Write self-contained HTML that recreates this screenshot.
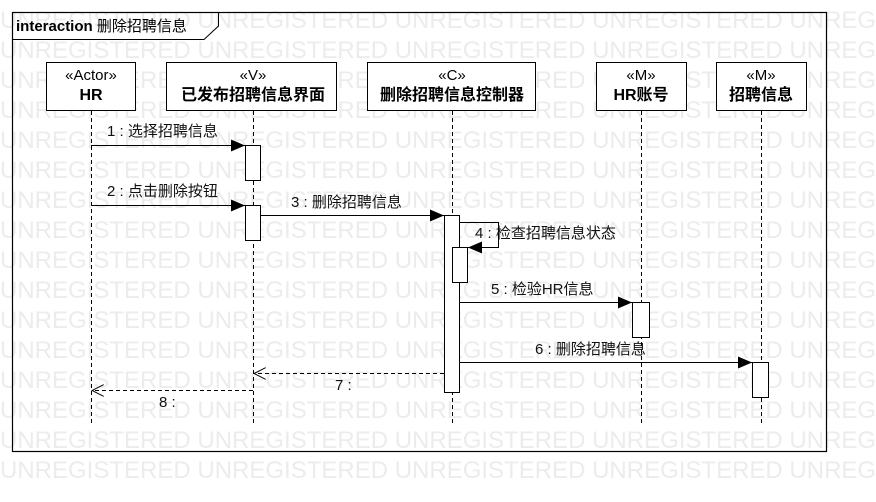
<!DOCTYPE html>
<html><head><meta charset="utf-8"><style>
html,body{margin:0;padding:0;background:#fff;}
svg{display:block;}
text{font-family:"Liberation Sans","Noto Sans CJK SC",sans-serif;}
</style></head><body>
<svg width="876" height="502" viewBox="0 0 876 502" xmlns="http://www.w3.org/2000/svg">
<defs>
<marker id="fa" markerWidth="14" markerHeight="12" refX="14" refY="6" orient="auto" markerUnits="userSpaceOnUse"><path d="M0,0 L14,6 L0,12 z" fill="#000"/></marker>
<marker id="oa" markerWidth="13" markerHeight="12" refX="12" refY="6" orient="auto" markerUnits="userSpaceOnUse"><path d="M0,0 L12,6 L0,12" fill="none" stroke="#000" stroke-width="1"/></marker>
</defs>
<rect width="876" height="502" fill="#fff"/>
<g fill="#ececec" font-size="24">
<text x="0" y="28">UNREGISTERED UNREGISTERED UNREGISTERED UNREGISTERED UNREGISTERED</text>
<text x="0" y="58">UNREGISTERED UNREGISTERED UNREGISTERED UNREGISTERED UNREGISTERED</text>
<text x="0" y="88">UNREGISTERED UNREGISTERED UNREGISTERED UNREGISTERED UNREGISTERED</text>
<text x="0" y="118">UNREGISTERED UNREGISTERED UNREGISTERED UNREGISTERED UNREGISTERED</text>
<text x="0" y="148">UNREGISTERED UNREGISTERED UNREGISTERED UNREGISTERED UNREGISTERED</text>
<text x="0" y="178">UNREGISTERED UNREGISTERED UNREGISTERED UNREGISTERED UNREGISTERED</text>
<text x="0" y="208">UNREGISTERED UNREGISTERED UNREGISTERED UNREGISTERED UNREGISTERED</text>
<text x="0" y="238">UNREGISTERED UNREGISTERED UNREGISTERED UNREGISTERED UNREGISTERED</text>
<text x="0" y="268">UNREGISTERED UNREGISTERED UNREGISTERED UNREGISTERED UNREGISTERED</text>
<text x="0" y="298">UNREGISTERED UNREGISTERED UNREGISTERED UNREGISTERED UNREGISTERED</text>
<text x="0" y="328">UNREGISTERED UNREGISTERED UNREGISTERED UNREGISTERED UNREGISTERED</text>
<text x="0" y="358">UNREGISTERED UNREGISTERED UNREGISTERED UNREGISTERED UNREGISTERED</text>
<text x="0" y="388">UNREGISTERED UNREGISTERED UNREGISTERED UNREGISTERED UNREGISTERED</text>
<text x="0" y="418">UNREGISTERED UNREGISTERED UNREGISTERED UNREGISTERED UNREGISTERED</text>
<text x="0" y="448">UNREGISTERED UNREGISTERED UNREGISTERED UNREGISTERED UNREGISTERED</text>
<text x="0" y="478">UNREGISTERED UNREGISTERED UNREGISTERED UNREGISTERED UNREGISTERED</text>
</g>
<rect x="12.5" y="12.5" width="814" height="439" fill="none" stroke="#000" stroke-width="1.2"/>
<path d="M12.5,39.5 L204,39.5 L218.5,26 L218.5,12.5" fill="none" stroke="#000" stroke-width="1"/>
<text x="16" y="31" font-size="15"><tspan font-weight="bold">interaction</tspan> 删除招聘信息</text>

<g stroke="#000" stroke-dasharray="4,3" stroke-width="1">
<line x1="91.5" y1="111" x2="91.5" y2="423"/>
<line x1="253.5" y1="111" x2="253.5" y2="423"/>
<line x1="452.5" y1="111" x2="452.5" y2="423"/>
<line x1="641.5" y1="111" x2="641.5" y2="423"/>
<line x1="761.5" y1="111" x2="761.5" y2="423"/>
</g>
<g fill="#fff" stroke="#000" stroke-width="1">
<rect x="46.5" y="62.5" width="89" height="48"/>
<rect x="166.5" y="62.5" width="170" height="48"/>
<rect x="367.5" y="62.5" width="168" height="48"/>
<rect x="596.5" y="62.5" width="90" height="48"/>
<rect x="716.5" y="62.5" width="90" height="48"/>
</g>
<g font-size="15" text-anchor="middle">
<text x="91" y="80">«Actor»</text><text x="91" y="100" font-weight="bold" font-size="16">HR</text>
<text x="253" y="80">«V»</text><text x="253" y="100" font-weight="bold" font-size="16">已发布招聘信息界面</text>
<text x="452" y="80">«C»</text><text x="452" y="100" font-weight="bold" font-size="16">删除招聘信息控制器</text>
<text x="641" y="80">«M»</text><text x="641" y="100" font-weight="bold" font-size="16">HR账号</text>
<text x="761" y="80">«M»</text><text x="761" y="100" font-weight="bold" font-size="16">招聘信息</text>
</g>

<g fill="#fff" stroke="#000" stroke-width="1">
<rect x="245.5" y="145.5" width="15" height="35"/>
<rect x="245.5" y="205.5" width="15" height="35"/>
<rect x="444.5" y="215.5" width="15" height="177"/>
<rect x="452.5" y="247.5" width="15" height="35"/>
<rect x="632.5" y="302.5" width="17" height="35"/>
<rect x="752.5" y="362.5" width="16" height="35"/>
</g>

<g stroke="#000" stroke-width="1" fill="none">
<line x1="91" y1="145.5" x2="245" y2="145.5" marker-end="url(#fa)"/>
<line x1="91" y1="205.5" x2="245" y2="205.5" marker-end="url(#fa)"/>
<line x1="261" y1="215.5" x2="444" y2="215.5" marker-end="url(#fa)"/>
<path d="M460,222.5 L498.5,222.5 L498.5,247.5 L468,247.5" marker-end="url(#fa)"/>
<line x1="460" y1="302.5" x2="632" y2="302.5" marker-end="url(#fa)"/>
<line x1="460" y1="362.5" x2="752" y2="362.5" marker-end="url(#fa)"/>
<line x1="444" y1="373.5" x2="254" y2="373.5" stroke-dasharray="4,3" marker-end="url(#oa)"/>
<line x1="253" y1="390.5" x2="92" y2="390.5" stroke-dasharray="4,3" marker-end="url(#oa)"/>
</g>
<g font-size="15" fill="#111">
<text x="107" y="136">1 : 选择招聘信息</text>
<text x="107" y="196">2 : 点击删除按钮</text>
<text x="291" y="207">3 : 删除招聘信息</text>
<text x="475" y="238">4 : 检查招聘信息状态</text>
<text x="491" y="294">5 : 检验HR信息</text>
<text x="535" y="354">6 : 删除招聘信息</text>
<text x="335" y="390">7 :</text>
<text x="159" y="407">8 :</text>
</g>
</svg>
</body></html>
